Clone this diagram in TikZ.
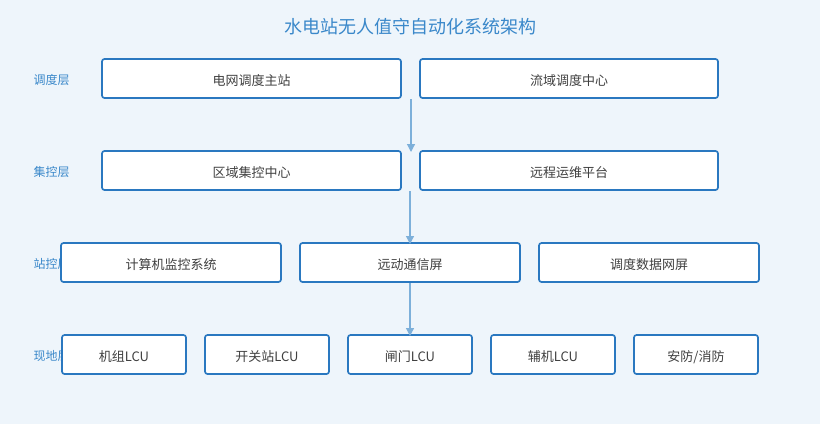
\documentclass[tikz,border=0pt]{standalone}
\usepackage{fontspec}
\setmainfont{Noto Sans CJK SC}
\usetikzlibrary{arrows.meta}
\definecolor{bgc}{HTML}{EEF5FB}
\definecolor{edge}{HTML}{2A78C0}
\definecolor{ttl}{HTML}{3A88CA}
\definecolor{arr}{HTML}{7DB0DA}
\begin{document}
\begin{tikzpicture}[x=1pt,y=-1pt,
  box/.style={draw=edge,line width=1.7pt,fill=white,rounded corners=2.5pt},
  lbl/.style={font=\fontsize{12}{14}\selectfont,text=ttl,anchor=west},
  txt/.style={font=\fontsize{13}{15}\selectfont,text=black!75},
  link/.style={draw=arr,line width=1.2pt,-{Triangle[length=8pt,width=8pt]}}]
	\fill[bgc] (0,0) rectangle (820,424);
	\useasboundingbox (0,0) rectangle (820,424);
	\node[font=\fontsize{18}{20}\selectfont,text=ttl] (title) at (410,27) {水电站无人值守自动化系统架构};
	% layer labels
	\node[lbl] (l1) at (30,80) {调度层};
	\node[lbl] (l2) at (30,172) {集控层};
	\node[lbl] (l3) at (30,264) {站控层};
	\node[lbl] (l4) at (30,356) {现地层};
	% boxes
	\draw[box] (102,59) rectangle (401,98);
	\draw[box] (420,59) rectangle (718,98);
	\draw[box] (102,151) rectangle (401,190);
	\draw[box] (420,151) rectangle (718,190);
	\draw[box] (61,243) rectangle (281,282);
	\draw[box] (300,243) rectangle (520,282);
	\draw[box] (539,243) rectangle (759,282);
	\foreach \x in {62,205,348,491,634}
		\draw[box] (\x,335) rectangle (\x+124,374);
	% texts
	\node[txt] (grid) at (251.5,81) {电网调度主站};
	\node[txt] (basin) at (569,81) {流域调度中心};
	\node[txt] (region) at (251.5,173) {区域集控中心};
	\node[txt] (ops) at (569,173) {远程运维平台};
	\node[txt] (scada) at (171,265) {计算机监控系统};
	\node[txt] (comm) at (410,265) {远动通信屏};
	\node[txt] (data) at (649,265) {调度数据网屏};
	\node[txt] (unit) at (124,357) {机组LCU};
	\node[txt] (switch) at (267,357) {开关站LCU};
	\node[txt] (gate) at (410,357) {闸门LCU};
	\node[txt] (aux) at (553,357) {辅机LCU};
	\node[txt] (fire) at (696,357) {安防/消防};
	% links
	\coordinate (a1) at (411,99);
	\coordinate (a2) at (411,152);
	\coordinate (b1) at (410,191);
	\coordinate (b2) at (410,244);
	\coordinate (c1) at (410,283);
	\coordinate (c2) at (410,336);
	\draw[link] (a1) -- (a2);
	\draw[link] (b1) -- (b2);
	\draw[link] (c1) -- (c2);
\end{tikzpicture}
\end{document}
